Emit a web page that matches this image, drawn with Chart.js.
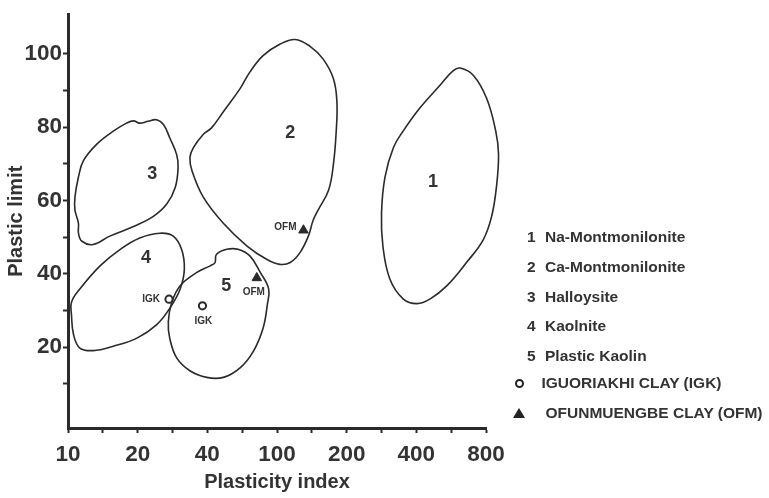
<!DOCTYPE html>
<html>
<head>
<meta charset="utf-8">
<title>Plasticity chart</title>
<script src="https://cdn.jsdelivr.net/npm/chart.js@4.4.1/dist/chart.umd.min.js"></script>
<style>
  html, body { margin: 0; padding: 0; background: #fff; }
  #wrap { position: relative; width: 769px; height: 498px; overflow: hidden; }
  #chart { position: absolute; left: 0; top: 0; }
  #legend {
    position: absolute; left: 0; top: 0; width: 769px; height: 498px;
    font: bold 15.5px "Liberation Sans", Arial, sans-serif; color: #333;
  }
  .item { position: absolute; left: 0; width: 769px; height: 18px; line-height: 18px; white-space: nowrap; }
  .item span { position: absolute; top: 0; }
  .circle { box-sizing: border-box; width: 9px; height: 9px; border: 2px solid #222; border-radius: 50%; }
  .tri { width: 0; height: 0; border-left: 6px solid transparent; border-right: 6px solid transparent; border-bottom: 10px solid #222; }
</style>
</head>
<body>
<div id="wrap">
  <canvas id="chart" width="769" height="498"></canvas>
  <div id="legend"></div>
</div>
<script>
// x axis is drawn on tick positions: 0 -> 10, 1 -> 20, 2 -> 40 ... 6 -> 800
const xTickLabels = ["10", "20", "40", "100", "200", "400", "800"];
const yTickValues = [10, 20, 30, 40, 50, 60, 70, 80, 90, 100];
const yLabelled = [20, 40, 60, 80, 100];

const regionNames = ["Na-Montmonilonite", "Ca-Montmonilonite", "Halloysite", "Kaolnite", "Plastic Kaolin"];
const sampleNames = ["IGUORIAKHI CLAY (IGK)", "OFUNMUENGBE CLAY (OFM)"];
const sampleCodes = ["IGK", "OFM"];

// outlines (x on tick-position scale, y = plastic limit)
const naMontX = [5.63, 5.82, 6.01, 6.14, 6.18, 6.15, 6.08, 5.96, 5.72, 5.44, 5.20, 5.01, 4.81, 4.62, 4.52, 4.50, 4.55, 4.67, 4.81, 5.05, 5.34, 5.53];
const naMontY = [96.1, 94.1, 87.8, 78.9, 72.6, 63.7, 55.6, 49.3, 43.1, 36.8, 33.2, 31.9, 33.2, 38.6, 47.6, 56.5, 66.4, 74.4, 78.9, 85.2, 91.4, 95.4];

const caMontX = [3.26, 3.47, 3.66, 3.81, 3.86, 3.85, 3.81, 3.74, 3.59, 3.52, 3.45, 3.33, 3.19, 3.04, 2.85, 2.57, 2.23, 1.94, 1.78, 1.75, 1.80, 1.94, 2.06, 2.23, 2.47, 2.61, 2.80, 3.04];
const caMontY = [103.9, 102.1, 98.6, 93.2, 86.9, 78.9, 69.9, 62.8, 57.4, 54.7, 50.3, 45.8, 43.1, 42.6, 44.0, 47.6, 53.8, 61.0, 68.1, 71.7, 74.4, 78.0, 79.8, 84.2, 90.5, 95.0, 99.5, 102.6];

const hallX = [1.27, 1.37, 1.46, 1.56, 1.58, 1.54, 1.42, 1.22, 0.94, 0.60, 0.36, 0.20, 0.15, 0.15, 0.10, 0.10, 0.15, 0.22, 0.41, 0.65, 0.84, 0.94, 1.03, 1.15];
const hallY = [82.0, 80.7, 77.1, 72.5, 69.0, 63.6, 59.1, 55.6, 52.9, 50.3, 48.0, 48.9, 51.1, 53.8, 57.4, 61.0, 66.4, 70.8, 75.3, 78.9, 81.1, 81.7, 81.1, 81.6];

const kaolX = [1.32, 1.51, 1.63, 1.67, 1.61, 1.46, 1.27, 0.99, 0.65, 0.36, 0.17, 0.08, 0.05, 0.05, 0.17, 0.46, 0.75, 1.03];
const kaolY = [51.1, 50.3, 46.7, 41.3, 35.9, 30.6, 26.1, 22.5, 20.3, 19.1, 19.8, 23.4, 28.8, 32.3, 35.9, 42.2, 46.7, 49.8];

const plasX = [2.13, 2.28, 2.44, 2.61, 2.76, 2.88, 2.86, 2.80, 2.66, 2.47, 2.23, 1.99, 1.75, 1.56, 1.46, 1.44, 1.49, 1.61, 1.85, 2.04, 2.11];
const plasY = [45.3, 46.7, 46.7, 44.9, 40.4, 35.9, 31.5, 25.2, 18.9, 14.4, 11.8, 11.8, 13.6, 17.1, 22.5, 27.0, 32.3, 36.8, 40.4, 42.2, 43.1];

const regionLabelX = [5.24, 3.19, 1.21, 1.12, 2.27];
const regionLabelY = [65.1, 78.5, 67.2, 44.4, 36.6];

const igkX = [1.45, 1.93];
const igkY = [33.1, 31.3];
const ofmX = [2.71, 3.38];
const ofmY = [38.9, 51.9];

// where each sample's code is written relative to its marker
const igkLabelPlace = [{ dx: -9, dy: 0, align: "right" }, { dx: 1, dy: 15, align: "center" }];
const ofmLabelPlace = [{ dx: -3, dy: 14, align: "center" }, { dx: -7, dy: -3, align: "right" }];

const FONT = '"Liberation Sans", Arial, Helvetica, sans-serif';
const INK = "#2a2a2a";
const TEXT = "#333";

const pts = (xs, ys) => xs.map((x, i) => ({ x, y: ys[i] }));

const outlines = [
  [naMontX, naMontY],
  [caMontX, caMontY],
  [hallX, hallY],
  [kaolX, kaolY],
  [plasX, plasY],
].map(([xs, ys], i) => ({
  label: regionNames[i],
  data: pts(xs, ys),
  closed: true,
  borderColor: INK,
  borderWidth: 1.6,
  pointRadius: 0,
  tension: 0.4,
  fill: false,
  clip: false,
}));

// close the outlines into smooth loops
const closeOutlines = {
  id: "closeOutlines",
  afterDatasetsUpdate(chart) {
    chart.data.datasets.forEach((ds, i) => {
      if (!ds.closed) return;
      const line = chart.getDatasetMeta(i).dataset;
      if (!line) return;
      line._loop = true;
      line._fullLoop = true;
      line._pointsUpdated = false;
      delete line._segments;
      delete line._path;
    });
  },
};

const textLabels = {
  id: "textLabels",
  afterDatasetsDraw(chart) {
    const { ctx, scales: { x, y } } = chart;
    ctx.save();
    ctx.fillStyle = TEXT;
    ctx.textBaseline = "middle";
    ctx.textAlign = "center";
    ctx.font = "bold 18px " + FONT;
    regionLabelX.forEach((v, i) => {
      ctx.fillText(String(i + 1), x.getPixelForValue(v), y.getPixelForValue(regionLabelY[i]));
    });
    ctx.font = "bold 10px " + FONT;
    const drawCodes = (xs, ys, places, code) => {
      xs.forEach((v, i) => {
        const p = places[i];
        ctx.textAlign = p.align;
        ctx.fillText(code, x.getPixelForValue(v) + p.dx, y.getPixelForValue(ys[i]) + p.dy);
      });
    };
    drawCodes(igkX, igkY, igkLabelPlace, sampleCodes[0]);
    drawCodes(ofmX, ofmY, ofmLabelPlace, sampleCodes[1]);
    ctx.restore();
  },
};

new Chart(document.getElementById("chart"), {
  type: "line",
  data: {
    datasets: [
      ...outlines,
      {
        label: sampleNames[0],
        data: pts(igkX, igkY),
        showLine: false,
        pointStyle: "circle",
        pointRadius: 3.6,
        pointBorderWidth: 2,
        pointBorderColor: INK,
        pointBackgroundColor: "#fff",
        clip: false,
      },
      {
        label: sampleNames[1],
        data: pts(ofmX, ofmY),
        showLine: false,
        pointStyle: "triangle",
        pointRadius: 5.5,
        pointBorderWidth: 1,
        pointBorderColor: INK,
        pointBackgroundColor: INK,
        clip: false,
      },
    ],
  },
  options: {
    responsive: false,
    animation: false,
    devicePixelRatio: 1,
    events: [],
    layout: { padding: { top: 8, right: 283, bottom: 0, left: 0 } },
    elements: { line: { capBezierPoints: false } },
    plugins: { legend: { display: false }, tooltip: { enabled: false } },
    scales: {
      x: {
        type: "linear",
        min: 0,
        max: 6,
        afterFit: (scale) => { scale.height = 70; },
        afterBuildTicks: (scale) => {
          scale.ticks = [];
          xTickLabels.forEach((_, i) => {
            scale.ticks.push({ value: i });
            if (i < xTickLabels.length - 1) scale.ticks.push({ value: i + 0.5 });
          });
        },
        border: { display: true, color: INK, width: 3 },
        grid: { display: true, drawOnChartArea: false, drawTicks: true, tickLength: 5, tickWidth: 2, tickColor: INK },
        ticks: {
          autoSkip: false,
          maxRotation: 0,
          padding: 8,
          color: TEXT,
          font: { family: FONT, size: 22.5, weight: "bold" },
          callback: (v) => (Number.isInteger(v) ? xTickLabels[v] : ""),
        },
        title: {
          display: true,
          text: "Plasticity index",
          color: TEXT,
          font: { family: FONT, size: 20, weight: "bold" },
          padding: { top: 4, bottom: 4 },
        },
      },
      y: {
        type: "linear",
        min: -2,
        max: 110.7,
        afterFit: (scale) => { scale.width = 68; },
        afterBuildTicks: (scale) => {
          scale.ticks = yTickValues.map((v) => ({ value: v }));
        },
        border: { display: true, color: INK, width: 3 },
        grid: { display: true, drawOnChartArea: false, drawTicks: true, tickLength: 5, tickWidth: 2, tickColor: INK },
        ticks: {
          padding: 1,
          color: TEXT,
          font: { family: FONT, size: 22.5, weight: "bold" },
          callback: (v) => (yLabelled.includes(v) ? String(v) : ""),
        },
        title: {
          display: true,
          text: "Plastic limit",
          color: TEXT,
          font: { family: FONT, size: 20, weight: "bold" },
          padding: { top: 4, bottom: 4 },
        },
      },
    },
  },
  plugins: [closeOutlines, textLabels],
});

// legend on the right
const legendRowY = [237, 267, 297, 326, 356, 383, 413];
const legend = document.getElementById("legend");

regionNames.forEach((name, i) => {
  const row = document.createElement("div");
  row.className = "item";
  row.style.top = legendRowY[i] - 9 + "px";
  row.innerHTML = `<span style="left:527px">${i + 1}</span><span style="left:545px">${name}</span>`;
  legend.appendChild(row);
});

const igkRow = document.createElement("div");
igkRow.className = "item";
igkRow.style.top = legendRowY[5] - 9 + "px";
igkRow.innerHTML = `<span class="circle" style="left:515px;top:4.5px"></span><span style="left:541.5px">${sampleNames[0]}</span>`;
legend.appendChild(igkRow);

const ofmRow = document.createElement("div");
ofmRow.className = "item";
ofmRow.style.top = legendRowY[6] - 9 + "px";
ofmRow.innerHTML = `<span class="tri" style="left:512.5px;top:4px"></span><span style="left:545.5px">${sampleNames[1]}</span>`;
legend.appendChild(ofmRow);
</script>
</body>
</html>
